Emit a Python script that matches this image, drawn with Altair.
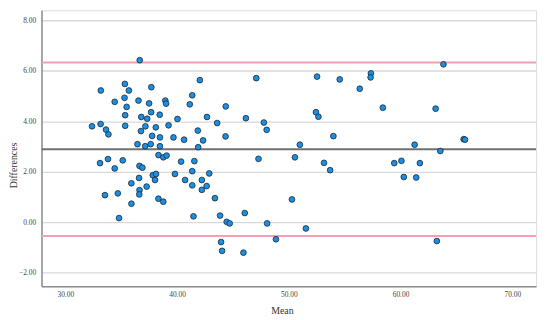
import altair as alt
import pandas as pd

mean_vals = [36.66, 33.18, 35.33, 35.69, 37.70, 42.04, 47.09, 41.36, 52.53, 54.56,
             57.35, 57.32, 56.35, 63.84, 34.42, 35.30, 36.55, 37.50, 38.95, 39.02,
             41.14, 35.49, 44.36, 35.36, 37.68, 38.45, 36.80, 37.33, 40.04, 42.68,
             46.16, 52.43, 52.65, 58.42, 63.14, 47.77, 48.02, 43.59, 32.39, 33.16,
             33.64, 33.86, 35.36, 37.17, 38.10, 39.24, 36.77, 41.86, 37.77, 38.47,
             39.68, 40.63, 42.33, 44.34, 36.46, 37.15, 37.64, 38.47, 41.89, 53.99,
             50.99, 61.26, 65.65, 65.77, 63.56, 50.55, 33.11, 33.82, 35.14, 34.42,
             36.64, 36.90, 38.34, 38.77, 39.07, 40.36, 41.55, 47.29, 36.60, 35.91,
             37.83, 38.12, 38.03, 39.81, 40.72, 41.36, 42.88, 42.22, 41.36, 42.65,
             42.22, 37.28, 36.64, 36.62, 34.70, 33.55, 38.33, 43.39, 53.15, 53.70,
             59.44, 60.08, 61.73, 60.29, 61.40, 50.28, 35.92, 38.77, 34.81, 41.47,
             43.85, 46.06, 44.44, 44.71, 48.06, 43.94, 44.03, 45.94, 51.53, 48.85,
             63.25]
diff_vals = [6.42, 5.22, 5.48, 5.22, 5.35, 5.63, 5.71, 5.03, 5.77, 5.66,
             5.90, 5.74, 5.29, 6.26, 4.77, 4.93, 4.82, 4.71, 4.82, 4.70,
             4.67, 4.57, 4.59, 4.24, 4.36, 4.26, 4.17, 4.10, 4.09, 4.17,
             4.12, 4.36, 4.18, 4.54, 4.50, 3.95, 3.66, 3.93, 3.80, 3.89,
             3.67, 3.48, 3.82, 3.80, 3.76, 3.84, 3.61, 3.63, 3.42, 3.36,
             3.36, 3.27, 3.24, 3.40, 3.09, 3.01, 3.09, 3.01, 2.97, 3.41,
             3.07, 3.07, 3.29, 3.27, 2.82, 2.57, 2.34, 2.50, 2.45, 2.13,
             2.23, 2.16, 2.66, 2.57, 2.64, 2.40, 2.42, 2.51, 1.75, 1.54,
             1.86, 1.91, 1.67, 1.91, 1.67, 2.02, 1.93, 1.67, 1.46, 1.43,
             1.28, 1.41, 1.27, 1.10, 1.14, 1.07, 0.93, 0.95, 2.35, 2.06,
             2.34, 2.43, 2.34, 1.79, 1.77, 0.90, 0.73, 0.81, 0.16, 0.23,
             0.26, 0.36, 0.01, -0.05, -0.05, -0.79, -1.14, -1.21, -0.25, -0.68,
             -0.75]

ref_levels = [6.33, 2.89, -0.55]
ref_kinds = ["upper", "mean", "lower"]
ref_colors = ["#f5a0b2", "#707070", "#f5a0b2"]

y_ticks = [-2, 0, 2, 4, 6, 8]
x_ticks = [30, 40, 50, 60, 70]

pts = pd.DataFrame({"Mean": mean_vals, "Differences": diff_vals})
refs = pd.DataFrame({"y": ref_levels, "kind": ref_kinds, "color": ref_colors})

xscale = alt.Scale(domain=[27.87, 72.13], nice=False, zero=False)
yscale = alt.Scale(domain=[-2.54, 8.40], nice=False, zero=False)

serif = "Liberation Serif"

xaxis = alt.Axis(values=x_ticks, format=".2f", grid=False, ticks=False,
                 labelFont=serif, labelFontSize=7.5, labelColor="#444444",
                 labelPadding=4, domainColor="#8c8c8c", domainWidth=1.5,
                 title="Mean", titleFont=serif, titleFontSize=10,
                 titleFontWeight="normal", titleColor="#333333",
                 titleX=244, titleY=25, titleBaseline="middle", titleAlign="center")
yaxis = alt.Axis(values=y_ticks, format=".2f", grid=True, gridColor="#d9d9d9",
                 gridWidth=1.5, ticks=False,
                 labelFont=serif, labelFontSize=7.5, labelColor="#444444",
                 labelPadding=6, domainColor="#8c8c8c", domainWidth=1.5,
                 title="Differences", titleFont=serif, titleFontSize=10,
                 titleFontWeight="normal", titleColor="#333333",
                 titleX=-28, titleY=157, titleAngle=270,
                 titleBaseline="middle", titleAlign="center")

points = alt.Chart(pts).mark_point(
    filled=True, shape="circle", size=34, fill="#1a8fe3",
    stroke="#1c2733", strokeWidth=0.8, opacity=1
).encode(
    x=alt.X("Mean:Q", scale=xscale, axis=xaxis),
    y=alt.Y("Differences:Q", scale=yscale, axis=yaxis),
)

rules = alt.Chart(refs).mark_rule(strokeWidth=1.8).encode(
    y=alt.Y("y:Q", scale=yscale),
    color=alt.Color("color:N", scale=None, legend=None),
)

chart = alt.layer(rules, points).properties(
    width=502, height=280,
    autosize=alt.AutoSizeParams(type="none"),
    padding={"left": 34, "top": 0, "right": 6, "bottom": 32},
).configure_view(stroke=None).configure(background="white")

chart.save("out.html", embed_options={"renderer": "svg", "actions": False})
